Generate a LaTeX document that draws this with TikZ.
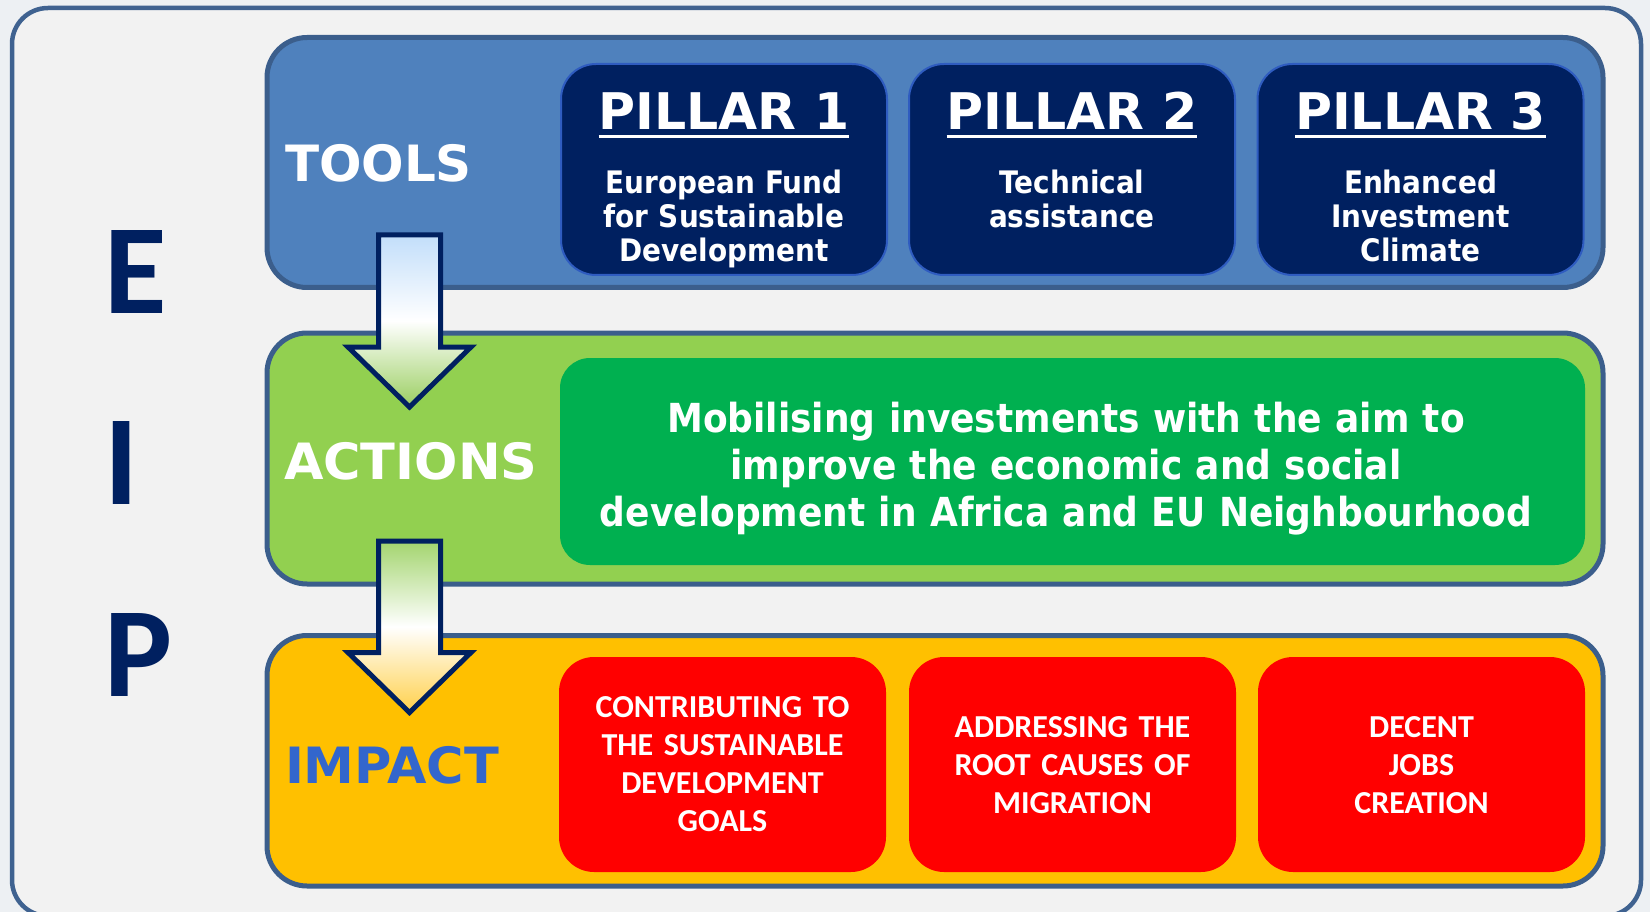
\documentclass[tikz,border=0pt]{standalone}
\usepackage{fontspec}
\setmainfont{DejaVu Sans}
\newfontfamily\vfont{DejaVu Sans}
\newfontfamily\tfont{DejaVu Sans}[FakeStretch=0.9]
\newfontfamily\cfont{Carlito}
\definecolor{bgout}{HTML}{EDF0F3}
\definecolor{framefill}{HTML}{F2F2F2}
\definecolor{frameline}{HTML}{3F6290}
\definecolor{bandline}{HTML}{3B5E8C}
\definecolor{toolsblue}{HTML}{4F81BD}
\definecolor{navy}{HTML}{002060}
\definecolor{pillarline}{HTML}{2F5CC0}
\definecolor{actgreen}{HTML}{92D050}
\definecolor{boxgreen}{HTML}{00B050}
\definecolor{impactyellow}{HTML}{FFC000}
\definecolor{boxred}{HTML}{FF0000}
\definecolor{impactblue}{HTML}{3366CC}
\definecolor{arrowblue}{HTML}{C2DEFA}
\definecolor{arrowgreenA}{HTML}{9ACE60}
\definecolor{arrowgreenB}{HTML}{A3D46E}
\definecolor{arrowyellow}{HTML}{FFD04A}
\begin{document}
\begin{tikzpicture}[x=1pt,y=-1pt,
  every node/.style={inner sep=0pt, outer sep=0pt},
  frame/.style={draw=frameline, fill=framefill, line width=4.5pt, rounded corners=36pt, rectangle},
  band/.style={draw=bandline, line width=5pt, rounded corners=40pt, rectangle},
  pillarbox/.style={draw=pillarline, fill=navy, line width=2pt, rounded corners=35pt, rectangle,
    minimum width=326pt, minimum height=211pt},
  redbox/.style={fill=boxred, rounded corners=35pt, rectangle, minimum width=327pt, minimum height=215pt},
  headtxt/.style={text=white, font=\vfont\bfseries\fontsize{50}{58}\selectfont},
  pillarhead/.style={text=white, font=\vfont\bfseries\fontsize{50.5}{58}\selectfont},
  pillartxt/.style={text=white, align=center, text width=310pt, font=\tfont\bfseries\fontsize{31}{34}\selectfont},
  greentxt/.style={text=white, align=center, text width=1000pt, font=\tfont\bfseries\fontsize{40}{47}\selectfont},
  redtxt/.style={text=white, align=center, text width=310pt, font=\cfont\bfseries\fontsize{32}{38.3}\selectfont},
  eiptxt/.style={text=navy, font=\cfont\bfseries\fontsize{128}{150}\selectfont},
  blockarrow/.style={draw=navy, line width=5pt, line join=miter}
]
\useasboundingbox (0,0) rectangle (1650,912);
\fill[bgout] (0,0) rectangle (1650,912);

% outer frame
\node[frame, minimum width=1629pt, minimum height=908pt] (frame) at (826.5,462) {};

% bands
\node[band, fill=toolsblue, minimum width=1336pt, minimum height=250pt] (tools) at (935,162.5) {};
\node[band, fill=actgreen, minimum width=1336pt, minimum height=251pt] (actions) at (935,458.5) {};
\node[band, fill=impactyellow, minimum width=1336pt, minimum height=250.5pt] (impact) at (935,760.75) {};

% EIP letters
\node[eiptxt, anchor=base west] (E) at (104,313) {E};
\node[eiptxt, anchor=base west] (I) at (104,504) {I};
\node[eiptxt, anchor=base west] (P) at (104,696) {P};

% band labels
\node[headtxt, anchor=base west] (toolslbl) at (285,182) {TOOLS};
\node[headtxt, anchor=base west, xscale=1.02] (actionslbl) at (284,479) {ACTIONS};
\node[headtxt, text=impactblue, anchor=base west, xscale=1.02] (impactlbl) at (285,783) {IMPACT};

% pillars
\node[pillarbox] (p1) at (724,169.5) {};
\node[pillarbox] (p2) at (1072,169.5) {};
\node[pillarbox] (p3) at (1420.5,169.5) {};

\node[pillarhead, anchor=base] (p1h) at (724,130) {PILLAR 1};
\node[pillarhead, anchor=base] (p2h) at (1072,130) {PILLAR 2};
\node[pillarhead, anchor=base] (p3h) at (1420.5,130) {PILLAR 3};
\foreach \h in {p1h,p2h,p3h}{
  \draw[white, line width=3pt] ([yshift=-7pt]\h.base west) -- ([yshift=-7pt]\h.base east);
}

\node[pillartxt, anchor=base] (p1t) at (724,194) {European Fund\\for Sustainable\\Development};
\node[pillartxt, anchor=base] (p2t) at (1072,194) {Technical\\assistance};
\node[pillartxt, anchor=base] (p3t) at (1420.5,194) {Enhanced\\Investment\\Climate};

% green action box
\node[fill=boxgreen, rounded corners=30pt, rectangle, minimum width=1025pt, minimum height=207pt] (gbox) at (1072.5,461.5) {};
\node[greentxt, anchor=base] (gtxt) at (1066,432) {Mobilising investments with the aim to\\improve the economic and social\\development in Africa and EU Neighbourhood};

% red impact boxes
\node[redbox] (r1) at (722.5,764.5) {};
\node[redbox] (r2) at (1072.5,764.5) {};
\node[redbox] (r3) at (1421.5,764.5) {};
\node[redtxt, anchor=base] (r1t) at (722.5,717) {CONTRIBUTING TO\\THE SUSTAINABLE\\DEVELOPMENT\\GOALS};
\node[redtxt, anchor=base] (r2t) at (1072.5,737) {ADDRESSING THE\\ROOT CAUSES OF\\MIGRATION};
\node[redtxt, anchor=base] (r3t) at (1421.5,737) {DECENT\\JOBS\\CREATION};

% block arrows
\coordinate (a1) at (409.5,235);
\coordinate (a2) at (409.5,541);
\draw[blockarrow, top color=arrowblue, bottom color=arrowgreenA, middle color=white]
  (a1) ++(-31,0) -- ++(62,0) -- ++(0,112) -- ++(30.5,0) -- ++(-61.5,60) -- ++(-61.5,-60) -- ++(30.5,0) -- cycle;
\draw[blockarrow, top color=arrowgreenB, bottom color=arrowyellow, middle color=white]
  (a2) ++(-31,0) -- ++(62,0) -- ++(0,111.5) -- ++(30.5,0) -- ++(-61.5,60) -- ++(-61.5,-60) -- ++(30.5,0) -- cycle;
\end{tikzpicture}
\end{document}
